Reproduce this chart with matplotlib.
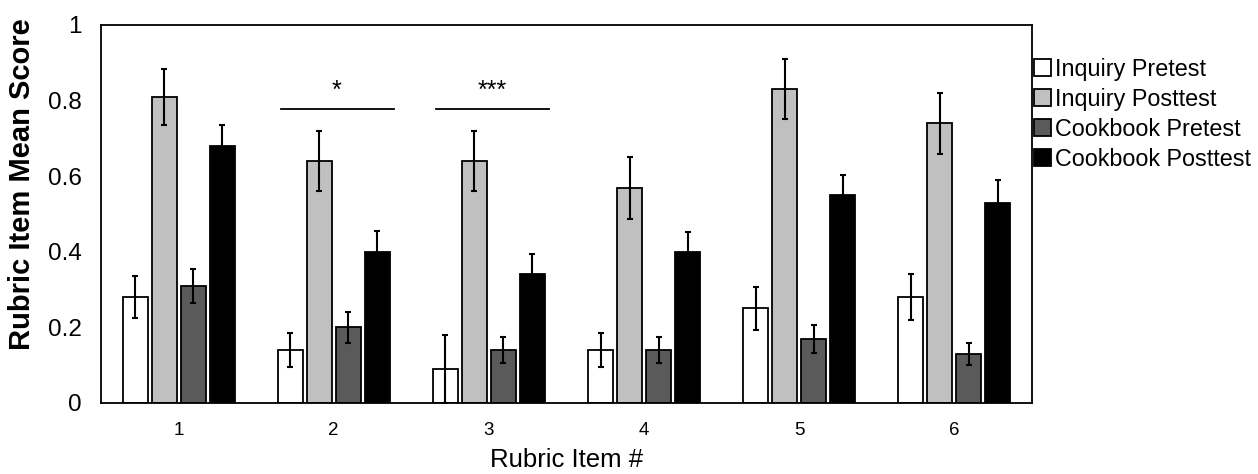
import matplotlib
matplotlib.use("Agg")
import matplotlib.pyplot as plt
import numpy as np

plt.rcParams['font.family'] = ['Liberation Sans', 'DejaVu Sans']

items = ["1", "2", "3", "4", "5", "6"]
series = ["Inquiry Pretest", "Inquiry Posttest", "Cookbook Pretest", "Cookbook Posttest"]

inq_pre = [0.28, 0.14, 0.09, 0.14, 0.25, 0.28]
inq_post = [0.81, 0.64, 0.64, 0.57, 0.83, 0.74]
cook_pre = [0.31, 0.20, 0.14, 0.14, 0.17, 0.13]
cook_post = [0.68, 0.40, 0.34, 0.40, 0.55, 0.53]

inq_pre_err = [0.056, 0.046, 0.09, 0.046, 0.056, 0.06]
inq_post_err = [0.074, 0.08, 0.08, 0.082, 0.08, 0.081]
cook_pre_err = [0.045, 0.042, 0.035, 0.035, 0.037, 0.03]
cook_post_err = [0.055, 0.055, 0.054, 0.052, 0.052, 0.06]

# significance markers: (item index, label)
sig_items = [1, 2]
sig_labels = ["*", "***"]
sig_height = 0.778

values = [inq_pre, inq_post, cook_pre, cook_post]
errors = [inq_pre_err, inq_post_err, cook_pre_err, cook_post_err]
colors = ["white", "#c0c0c0", "#5a5a5a", "black"]

fig = plt.figure(figsize=(12.58, 4.74), dpi=100)
ax = fig.add_axes([0.0803, 0.1498, 0.7400, 0.7975])

x = np.arange(len(items))
width = 0.162
step = 0.187
offsets = [-1.5 * step, -0.5 * step, 0.5 * step, 1.5 * step]

for i in range(len(series)):
    ax.bar(x + offsets[i], values[i], width, color=colors[i], edgecolor="black",
           linewidth=1.3, label=series[i], zorder=2)
    ax.errorbar(x + offsets[i], values[i], yerr=errors[i], fmt="none",
                ecolor="black", elinewidth=1.5, capsize=2.2, capthick=1.5, zorder=3)

for k in range(len(sig_items)):
    xi = sig_items[k]
    ax.plot([xi - 0.34, xi + 0.39], [sig_height, sig_height], color="black", lw=1.3)
    ax.text(xi + 0.02, sig_height + 0.015, sig_labels[k], ha="center", va="bottom", fontsize=18)

ax.set_xlim(-0.5, len(items) - 0.5)
ax.set_ylim(0, 1)
ax.set_xticks(x)
ax.set_xticklabels(items, fontsize=13.5)
ax.set_yticks(np.arange(0, 1.01, 0.2))
ax.yaxis.set_major_formatter(matplotlib.ticker.FormatStrFormatter('%g'))
ax.tick_params(axis="y", length=0, labelsize=17.5, pad=14)
ax.tick_params(axis="x", length=0, pad=14)
for s in ax.spines.values():
    s.set_color("black")
    s.set_linewidth(1.3)

ax.set_xlabel("Rubric Item #", fontsize=18.5, labelpad=6)
ax.set_ylabel("Rubric Item Mean Score", fontsize=21, fontweight="bold", labelpad=8)
ax.yaxis.set_label_coords(-0.07, 0.58)

ax.legend(loc="upper left", bbox_to_anchor=(1.0, 0.92), frameon=False, fontsize=16.8,
          handlelength=0.7, handleheight=0.7, handletextpad=0.2, labelspacing=0.3,
          borderpad=0, borderaxespad=0.1)

plt.savefig("out.png", dpi=100)
